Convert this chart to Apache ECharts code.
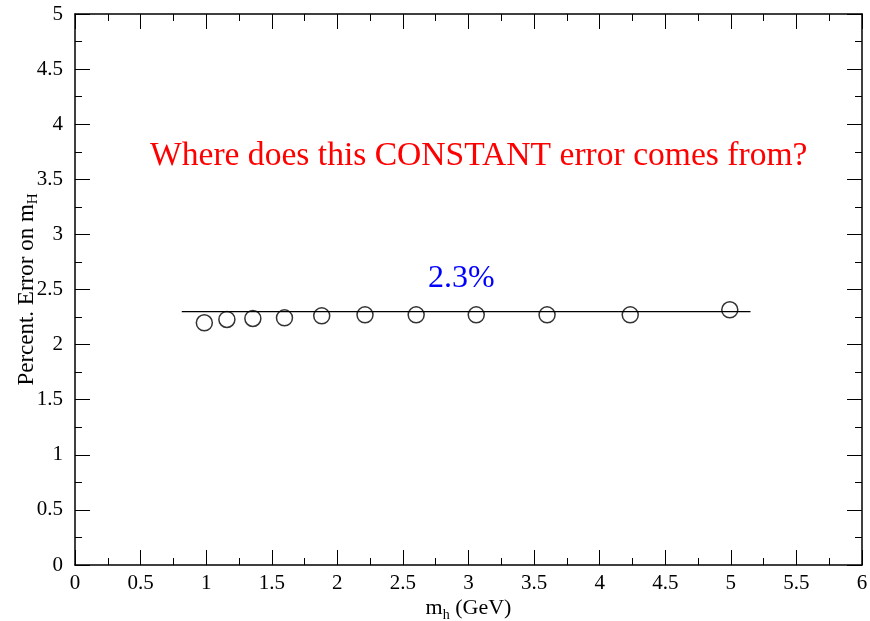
<!DOCTYPE html>
<html>
<head>
<meta charset="utf-8">
<script src="https://cdn.jsdelivr.net/npm/echarts@6/dist/echarts.min.js"></script>
<style>
  html, body { margin: 0; padding: 0; background: #fff; }
  #chart { width: 870px; height: 621px; }
</style>
</head>
<body>
<div id="chart"></div>
<script>
// Higgs mass (GeV) and percent error on m_H
const massValues = [0.986, 1.158, 1.356, 1.597, 1.881, 2.211, 2.601, 3.059, 3.599, 4.233, 4.992];
const errorValues = [2.198, 2.228, 2.237, 2.243, 2.261, 2.270, 2.270, 2.270, 2.270, 2.270, 2.316];
// Constant fit level and its x extent
const fitLevel = 2.3;
const fitRange = [0.814, 5.15];
const fitLabel = '2.3%';
const question = 'Where does this CONSTANT error comes from?';

const serif = '"Liberation Serif", "Times New Roman", serif';
const chart = echarts.init(document.getElementById('chart'));

const axisCommon = {
  min: 0,
  interval: 0.5,
  axisLine: { show: true, onZero: false, lineStyle: { color: '#000', width: 1.5 } },
  axisTick: { show: true, inside: true, length: 15, lineStyle: { color: '#000', width: 1 } },
  minorTick: { show: true, splitNumber: 2, length: 7, lineStyle: { color: '#000', width: 1 } },
  splitLine: { show: false },
  axisLabel: { color: '#000', fontFamily: serif, fontSize: 21 }
};

chart.setOption({
  animation: false,
  backgroundColor: '#fff',
  grid: { left: 75, right: 8, top: 14, bottom: 56, containLabel: false, outerBoundsMode: 'none' },
  xAxis: [
    Object.assign({}, axisCommon, {
      type: 'value', max: 6, position: 'bottom',
      axisLabel: Object.assign({}, axisCommon.axisLabel, { margin: 8 }),
      name: '{n|m}{s|h}{n| (GeV)}',
      nameLocation: 'middle', nameGap: 30, nameMoveOverlap: false,
      nameTextStyle: {
        rich: {
          n: { fontFamily: serif, fontSize: 22, color: '#000' },
          s: { fontFamily: serif, fontSize: 14, color: '#000', padding: [13, 0, 0, 0] }
        }
      }
    }),
    Object.assign({}, axisCommon, {
      type: 'value', max: 6, position: 'top',
      axisLabel: { show: false }
    })
  ],
  yAxis: [
    Object.assign({}, axisCommon, {
      type: 'value', max: 5, position: 'left',
      axisLabel: Object.assign({}, axisCommon.axisLabel, { margin: 12 }),
      name: '{n|Percent. Error on m}{s|H}',
      nameLocation: 'middle', nameGap: 34, nameRotate: 90, nameMoveOverlap: false,
      nameTextStyle: {
        rich: {
          n: { fontFamily: serif, fontSize: 23, color: '#000' },
          s: { fontFamily: serif, fontSize: 15, color: '#000', padding: [13, 0, 0, 0] }
        }
      }
    }),
    Object.assign({}, axisCommon, {
      type: 'value', max: 5, position: 'right',
      axisLabel: { show: false }
    })
  ],
  graphic: [
    {
      type: 'text', left: 150, top: 139,
      style: { text: question, fill: '#ff0000', font: '33.6px ' + serif }
    },
    {
      type: 'text', left: 428, top: 263,
      style: { text: fitLabel, fill: '#0000ff', font: '32px ' + serif }
    }
  ],
  series: [
    {
      type: 'line',
      data: [[fitRange[0], fitLevel], [fitRange[1], fitLevel]],
      symbol: 'none',
      lineStyle: { color: '#000', width: 1.2 },
      z: 2
    },
    {
      type: 'scatter',
      data: massValues.map((m, i) => [m, errorValues[i]]),
      symbol: 'circle',
      symbolSize: 16,
      itemStyle: { color: 'rgba(255,255,255,0)', borderColor: '#000', borderWidth: 1.5 },
      z: 3
    }
  ]
});
</script>
</body>
</html>
